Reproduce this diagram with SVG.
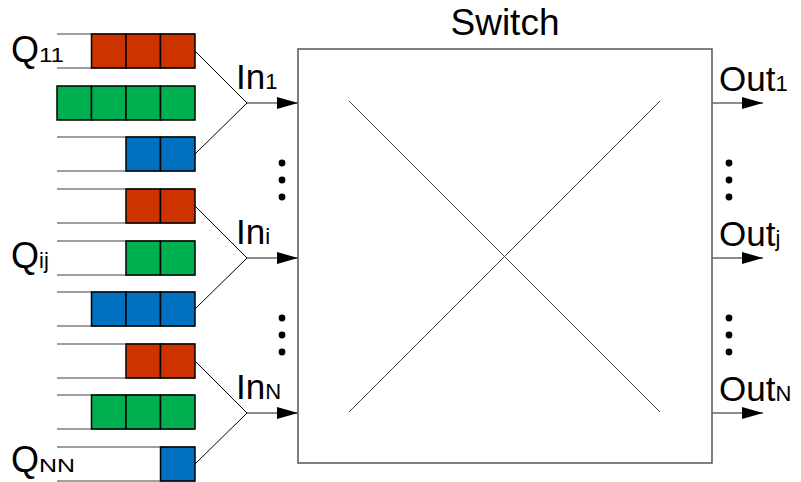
<svg xmlns="http://www.w3.org/2000/svg" width="801" height="482" viewBox="0 0 801 482">
  <style>
    .lbl { font-family: "Liberation Sans", Arial, sans-serif; fill: #000; }
    .main { font-size: 35px; }
    .sub { font-size: 22px; }
    .rail { stroke: #7f7f7f; stroke-width: 1.5; fill: none; }
    .cell { stroke: #000; stroke-width: 1.5; }
    .red { fill: #CC3300; }
    .green { fill: #00B050; }
    .blue { fill: #0070C0; }
    .fan { stroke: #000; stroke-width: 1; fill: none; }
    .arr { stroke: #666; stroke-width: 1.5; fill: none; }
    .box { stroke: #555; stroke-width: 1.5; fill: #fff; }
    .cross { stroke: #444; stroke-width: 1; }
  </style>
  <defs>
    <marker id="head" markerWidth="21" markerHeight="14" refX="21" refY="7" orient="auto" markerUnits="userSpaceOnUse">
      <path d="M0,1 L21,7 L0,13 Z" fill="#000"/>
    </marker>
  </defs>

  <!-- Switch fabric -->
  <g id="switch">
    <text class="lbl" x="505" y="35" text-anchor="middle" font-size="37">Switch</text>
    <rect class="box" x="298" y="49" width="414" height="414"/>
    <line class="cross" x1="349" y1="101" x2="660" y2="412"/>
    <line class="cross" x1="660" y1="101" x2="349" y2="412"/>
  </g>

  <!-- Input queues, group 1 -->
  <g id="queue-1">
    <line class="rail" x1="57" y1="34" x2="195" y2="34"/>
    <line class="rail" x1="57" y1="68" x2="195" y2="68"/>
    <rect class="cell red" x="91.5" y="34" width="34.5" height="34"/>
    <rect class="cell red" x="126" y="34" width="34.5" height="34"/>
    <rect class="cell red" x="160.5" y="34" width="34.5" height="34"/>
  </g>
  <g id="queue-2">
    <rect class="cell green" x="57" y="86" width="34.5" height="34"/>
    <rect class="cell green" x="91.5" y="86" width="34.5" height="34"/>
    <rect class="cell green" x="126" y="86" width="34.5" height="34"/>
    <rect class="cell green" x="160.5" y="86" width="34.5" height="34"/>
  </g>
  <g id="queue-3">
    <line class="rail" x1="57" y1="137" x2="195" y2="137"/>
    <line class="rail" x1="57" y1="171" x2="195" y2="171"/>
    <rect class="cell blue" x="126" y="137" width="34.5" height="34"/>
    <rect class="cell blue" x="160.5" y="137" width="34.5" height="34"/>
  </g>

  <!-- Input queues, group i -->
  <g id="queue-4">
    <line class="rail" x1="57" y1="189" x2="195" y2="189"/>
    <line class="rail" x1="57" y1="223" x2="195" y2="223"/>
    <rect class="cell red" x="126" y="189" width="34.5" height="34"/>
    <rect class="cell red" x="160.5" y="189" width="34.5" height="34"/>
  </g>
  <g id="queue-5">
    <line class="rail" x1="57" y1="241" x2="195" y2="241"/>
    <line class="rail" x1="57" y1="275" x2="195" y2="275"/>
    <rect class="cell green" x="126" y="241" width="34.5" height="34"/>
    <rect class="cell green" x="160.5" y="241" width="34.5" height="34"/>
  </g>
  <g id="queue-6">
    <line class="rail" x1="57" y1="292" x2="195" y2="292"/>
    <line class="rail" x1="57" y1="326" x2="195" y2="326"/>
    <rect class="cell blue" x="91.5" y="292" width="34.5" height="34"/>
    <rect class="cell blue" x="126" y="292" width="34.5" height="34"/>
    <rect class="cell blue" x="160.5" y="292" width="34.5" height="34"/>
  </g>

  <!-- Input queues, group N -->
  <g id="queue-7">
    <line class="rail" x1="57" y1="344" x2="195" y2="344"/>
    <line class="rail" x1="57" y1="378" x2="195" y2="378"/>
    <rect class="cell red" x="126" y="344" width="34.5" height="34"/>
    <rect class="cell red" x="160.5" y="344" width="34.5" height="34"/>
  </g>
  <g id="queue-8">
    <line class="rail" x1="57" y1="395" x2="195" y2="395"/>
    <line class="rail" x1="57" y1="429" x2="195" y2="429"/>
    <rect class="cell green" x="91.5" y="395" width="34.5" height="34"/>
    <rect class="cell green" x="126" y="395" width="34.5" height="34"/>
    <rect class="cell green" x="160.5" y="395" width="34.5" height="34"/>
  </g>
  <g id="queue-9">
    <line class="rail" x1="57" y1="447" x2="195" y2="447"/>
    <line class="rail" x1="57" y1="481" x2="195" y2="481"/>
    <rect class="cell blue" x="160.5" y="447" width="34.5" height="34"/>
  </g>

  <!-- Queue labels -->
  <g id="queue-labels">
    <text class="lbl" x="11" y="62" font-size="36">Q<tspan font-size="20" textLength="25" lengthAdjust="spacingAndGlyphs">11</tspan></text>
    <text class="lbl" x="11" y="268" font-size="36">Q<tspan font-size="22">ij</tspan></text>
    <text class="lbl" x="11" y="472" font-size="36">Q<tspan font-size="19" textLength="36" lengthAdjust="spacingAndGlyphs">NN</tspan></text>
  </g>

  <!-- Connectors: queue merges, port arrows -->
  <g id="connectors">
    <polyline class="fan" points="195,51 247,103 195,154"/>
    <polyline class="fan" points="195,206 247,258 195,309"/>
    <polyline class="fan" points="195,361 247,413 195,464"/>
    <line class="arr" x1="247" y1="103" x2="298" y2="103" marker-end="url(#head)"/>
    <line class="arr" x1="247" y1="258" x2="298" y2="258" marker-end="url(#head)"/>
    <line class="arr" x1="247" y1="413" x2="298" y2="413" marker-end="url(#head)"/>
    <line class="arr" x1="712" y1="103" x2="763" y2="103" marker-end="url(#head)"/>
    <line class="arr" x1="712" y1="258" x2="763" y2="258" marker-end="url(#head)"/>
    <line class="arr" x1="712" y1="413" x2="763" y2="413" marker-end="url(#head)"/>
  </g>

  <!-- Port labels -->
  <g id="input-labels">
    <text class="lbl main" x="236" y="89">In<tspan class="sub">1</tspan></text>
    <text class="lbl main" x="236" y="244">In<tspan class="sub">i</tspan></text>
    <text class="lbl main" x="236" y="399">In<tspan class="sub">N</tspan></text>
  </g>
  <g id="output-labels">
    <text class="lbl main" x="719" y="91">Out<tspan class="sub">1</tspan></text>
    <text class="lbl main" x="719" y="246">Out<tspan class="sub">j</tspan></text>
    <text class="lbl main" x="719" y="401">Out<tspan class="sub">N</tspan></text>
  </g>

  <!-- Ellipses between ports -->
  <g id="ellipses" fill="#000">
    <circle cx="282" cy="163" r="3.4"/>
    <circle cx="282" cy="180" r="3.4"/>
    <circle cx="282" cy="197" r="3.4"/>
    <circle cx="282" cy="318" r="3.4"/>
    <circle cx="282" cy="335" r="3.4"/>
    <circle cx="282" cy="352" r="3.4"/>
    <circle cx="729" cy="163" r="3.4"/>
    <circle cx="729" cy="180" r="3.4"/>
    <circle cx="729" cy="197" r="3.4"/>
    <circle cx="729" cy="318" r="3.4"/>
    <circle cx="729" cy="335" r="3.4"/>
    <circle cx="729" cy="352" r="3.4"/>
  </g>
</svg>
